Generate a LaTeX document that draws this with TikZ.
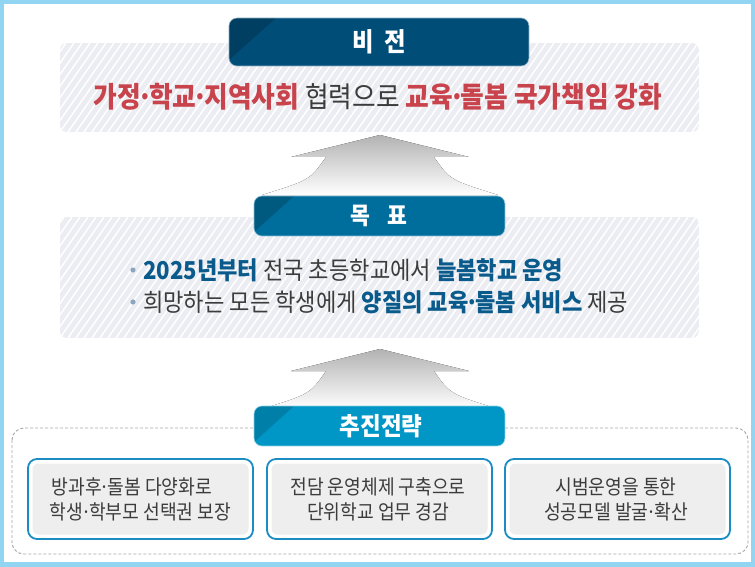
\documentclass[tikz,border=0pt]{standalone}
\usepackage{fontspec}
\setmainfont{Noto Sans CJK KR}[FakeStretch=0.9]
\definecolor{framecol}{HTML}{92D5F3}
\definecolor{bandcol}{HTML}{ECEDF2}
\definecolor{redtxt}{HTML}{C8434C}
\definecolor{bluetxt}{HTML}{0A5B8C}
\definecolor{graytxt}{HTML}{3C3C3C}
\definecolor{visioncol}{HTML}{004E78}
\definecolor{goalcol}{HTML}{006E9D}
\definecolor{stratcol}{HTML}{0096C6}
\definecolor{boxborder}{HTML}{1B8DC2}
\definecolor{boxfill}{HTML}{EEEEEE}
\definecolor{bulletcol}{HTML}{8AA6C1}
\definecolor{dashcol}{HTML}{A8A8A8}
\newcommand{\md}{\makebox[0.28em]{·}}
\tikzset{
  titletext/.style={text=white, font=\bfseries, inner sep=0pt},
  bandtext/.style={inner sep=0pt, text=graytxt},
  stratbox/.style={rounded corners=9pt, draw=boxborder, line width=1.8pt, fill=white},
  stratinner/.style={rounded corners=6pt, fill=boxfill},
  strattext/.style={align=center, text=graytxt, inner sep=0pt, font=\fontsize{20.2}{25}\selectfont},
  arrowshape/.style={top color=black!30, bottom color=white, draw=none},
}
\newcommand{\myuparrow}[1]{% tip y
  \fill[arrowshape] (380,#1) -- (469,#1+22) -- (434,#1+22)
    .. controls (450,#1+45) .. (498,#1+60) -- (262,#1+60)
    .. controls (310,#1+45) .. (326,#1+22) -- (291,#1+22) -- cycle;}
\begin{document}
\begin{tikzpicture}[x=1pt, y=-1pt]
  % frame
  \fill[framecol] (0,0) rectangle (755,567);
  \fill[white] (4,4) rectangle (751,562);
  \useasboundingbox (0,0) rectangle (755,567);

  % vision band
  \begin{scope}
    \clip[rounded corners=7pt] (60,43) rectangle (699,132);
    \fill[bandcol] (60,43) rectangle (699,132);
    \foreach \k in {-20,...,90}
      \draw[white, line width=1.5pt] ({60+\k*8},132) -- ++(62,-89);
  \end{scope}
  % goal band
  \begin{scope}
    \clip[rounded corners=7pt] (60,217) rectangle (699,338);
    \fill[bandcol] (60,217) rectangle (699,338);
    \foreach \k in {-20,...,90}
      \draw[white, line width=1.5pt] ({60+\k*8},338) -- ++(84,-121);
  \end{scope}

  % arrows
  \myuparrow{135}
  \myuparrow{349}

  % strategy dashed container
  \draw[dashcol, dash pattern=on 3pt off 2pt, line width=0.9pt, rounded corners=12pt]
    (12,428) rectangle (748,554);

  % vision title
  \begin{scope}
    \clip[rounded corners=8pt] (229,18) rectangle (529,66);
    \fill[visioncol] (229,18) rectangle (529,66);
    \fill[black, opacity=0.18] (229,18) -- (276,18) -- (229,60) -- cycle;
  \end{scope}
  \draw[rounded corners=8pt, draw=white!55!visioncol, line width=0.6pt] (229,18) rectangle (529,66);
  \node[titletext, font=\fontsize{26}{26}\bfseries\selectfont] (vtitle) at (379,42) {비\hspace{0.42em}전};

  % vision text
  \node[bandtext, font=\fontsize{28.6}{28.6}\selectfont] (vtext) at (378,97)
    {{\bfseries\color{redtxt}가정\md 학교\md 지역사회} 협력으로 {\bfseries\color{redtxt}교육\md 돌봄 국가책임 강화}};

  % goal title
  \begin{scope}
    \clip[rounded corners=8pt] (254,196) rectangle (505,236);
    \fill[goalcol] (254,196) rectangle (505,236);
    \fill[black, opacity=0.18] (254,196) -- (294,196) -- (254,232) -- cycle;
  \end{scope}
  \draw[rounded corners=8pt, draw=white!55!goalcol, line width=0.6pt] (254,196) rectangle (505,236);
  \node[titletext, font=\fontsize{24}{24}\bfseries\selectfont] (gtitle) at (379,216) {목\hspace{0.72em}표};

  % goal bullets and lines
  \fill[bulletcol] (133,270) circle (2.6);
  \fill[bulletcol] (133,302) circle (2.6);
  \node[bandtext, anchor=west, font=\fontsize{24.6}{24.6}\selectfont] (g1) at (143,270)
    {{\bfseries\color{bluetxt}2025년부터} 전국 초등학교에서 {\bfseries\color{bluetxt}늘봄학교 운영}};
  \node[bandtext, anchor=west, font=\fontsize{24.6}{24.6}\selectfont] (g2) at (143,302)
    {희망하는 모든 학생에게 {\bfseries\color{bluetxt}양질의 교육\md 돌봄 서비스} 제공};

  % strategy title
  \begin{scope}
    \clip[rounded corners=8pt] (254,406) rectangle (505,446);
    \fill[stratcol] (254,406) rectangle (505,446);
    \fill[black, opacity=0.15] (254,406) -- (294,406) -- (254,442) -- cycle;
  \end{scope}
  \draw[rounded corners=8pt, draw=white!55!stratcol, line width=0.6pt] (254,406) rectangle (505,446);
  \node[titletext, font=\fontsize{25}{25}\bfseries\selectfont] (stitle) at (381,426) {추진전략};

  % strategy boxes
  \draw[stratbox] (28,459) rectangle (253,539);
  \fill[stratinner] (32.5,463.5) rectangle (248.5,534.5);
  \draw[stratbox] (267,459) rectangle (492,539);
  \fill[stratinner] (271.5,463.5) rectangle (487.5,534.5);
  \draw[stratbox] (505,459) rectangle (730,539);
  \fill[stratinner] (509.5,463.5) rectangle (725.5,534.5);

  \node[strattext] (s1) at (140.5,499) {방과후\md 돌봄 다양화로\hspace*{17pt}\\학생\md 학부모 선택권 보장};
  \node[strattext] (s2) at (378,499) {전담 운영체제 구축으로\\단위학교 업무 경감};
  \node[strattext] (s3) at (616,499) {시범운영을 통한\\성공모델 발굴\md 확산};
\end{tikzpicture}
\end{document}
